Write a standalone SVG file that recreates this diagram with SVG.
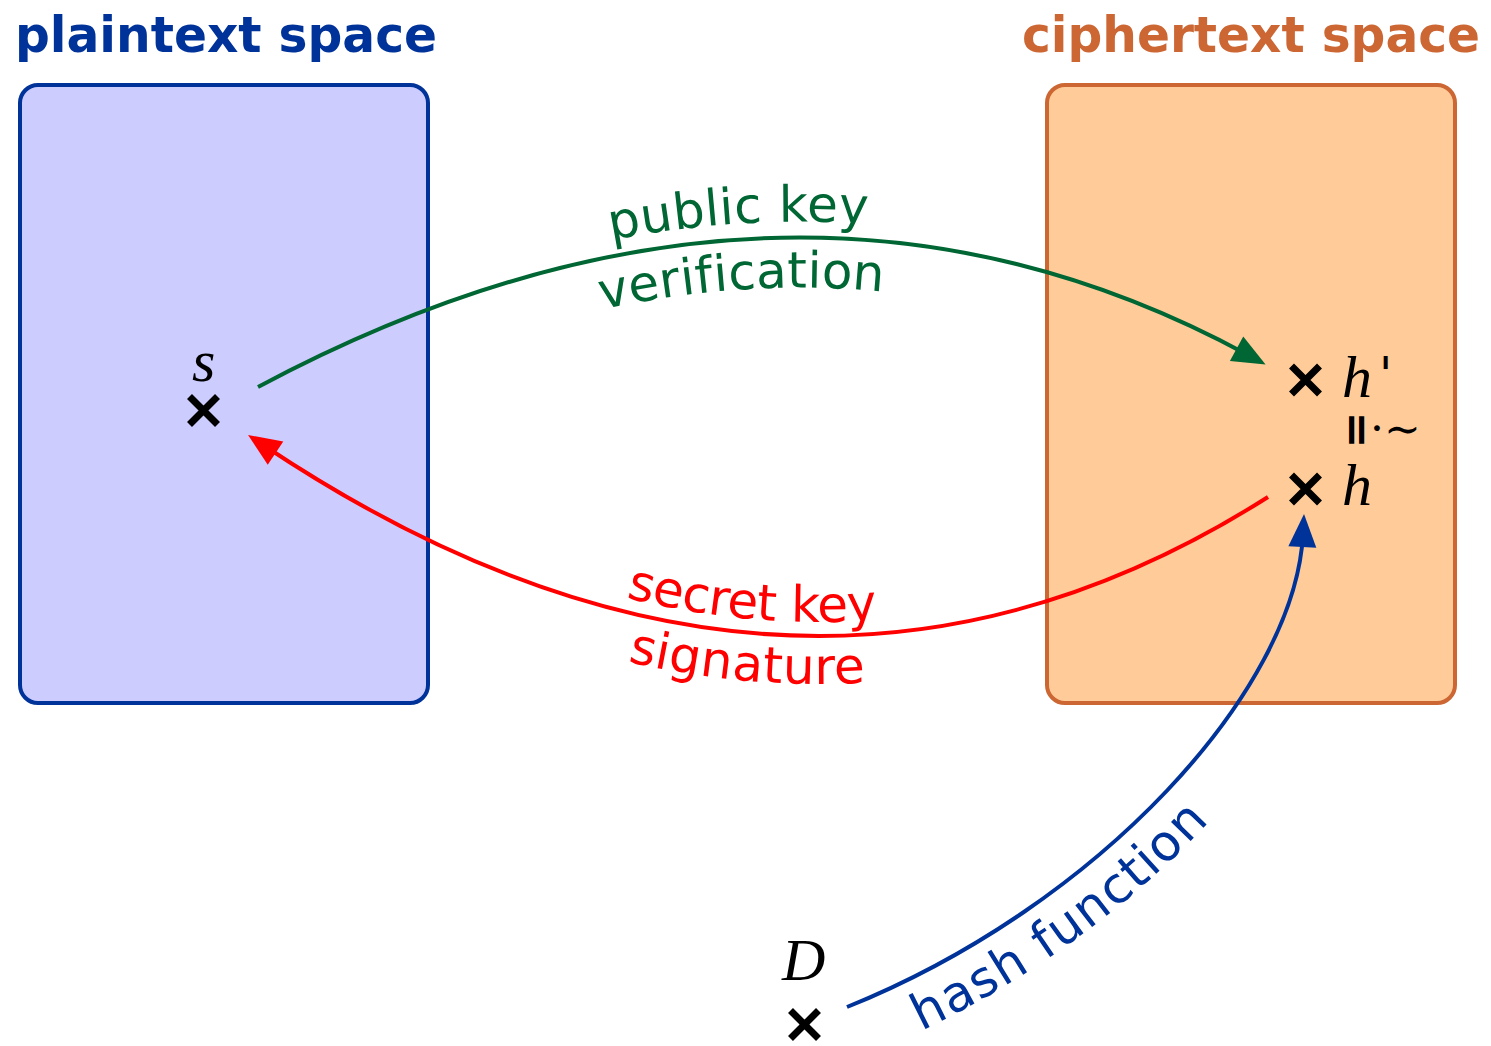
<svg xmlns="http://www.w3.org/2000/svg" xmlns:xlink="http://www.w3.org/1999/xlink" width="1491" height="1046" viewBox="0 0 1491 1046">
  <style>
    .title { font-family: "DejaVu Sans", "Liberation Sans", sans-serif; font-weight: bold; font-size: 50px; }
    .lbl { font-family: "DejaVu Sans", "Liberation Sans", sans-serif; font-size: 50px; }
    .math { font-family: "Liberation Serif", "DejaVu Serif", serif; font-style: italic; font-size: 60px; fill: #000; }
    .cross { stroke: #000; stroke-width: 7; fill: none; }
    .conn { fill: none; stroke-width: 4; }
  </style>
  <defs>
    <marker id="headGreen" markerUnits="userSpaceOnUse" viewBox="-30 -20 60 40" markerWidth="60" markerHeight="40" refX="0" refY="0" orient="auto" overflow="visible">
      <path d="M20,0 L-13,-14 L-13,14 z" fill="#006633"/>
    </marker>
    <marker id="headRed" markerUnits="userSpaceOnUse" viewBox="-30 -20 60 40" markerWidth="60" markerHeight="40" refX="0" refY="0" orient="auto" overflow="visible">
      <path d="M20,0 L-13,-14 L-13,14 z" fill="#ff0000"/>
    </marker>
    <marker id="headBlue" markerUnits="userSpaceOnUse" viewBox="-30 -20 60 40" markerWidth="60" markerHeight="40" refX="0" refY="0" orient="auto" overflow="visible">
      <path d="M20,0 L-13,-14 L-13,14 z" fill="#003399"/>
    </marker>
    <path id="greenArc" d="M258,387 Q787,105 1248,355"/>
    <path id="redArcLR" d="M264.7,446 Q793.6,798.5 1268,497"/>
    <path id="blueArc" d="M847,1007 C1100,905 1295,690 1303,534"/>
    <path id="xmark" d="M-14,-14 L14,14 M-14,14 L14,-14"/>
  </defs>

  <!-- plaintext space -->
  <g id="plaintext">
    <text class="title" x="15" y="52" fill="#003399" textLength="422" lengthAdjust="spacingAndGlyphs">plaintext space</text>
    <rect x="20" y="85" width="408" height="618" rx="18" ry="18" fill="#ccccff" stroke="#003399" stroke-width="4"/>
  </g>

  <!-- ciphertext space -->
  <g id="ciphertext">
    <text class="title" x="1022" y="52" fill="#cc6633" textLength="458" lengthAdjust="spacingAndGlyphs">ciphertext space</text>
    <rect x="1047" y="85" width="408" height="618" rx="18" ry="18" fill="#ffcc99" stroke="#cc6633" stroke-width="4"/>
  </g>

  <!-- connectors -->
  <g id="connectors">
    <path class="conn" d="M258,387 Q787,105 1248,355" stroke="#006633" marker-end="url(#headGreen)"/>
    <path class="conn" d="M1268,497 Q793.6,798.5 264.7,446" stroke="#ff0000" marker-end="url(#headRed)"/>
    <path class="conn" d="M847,1007 C1100,905 1295,690 1303,534" stroke="#003399" marker-end="url(#headBlue)"/>

    <text class="lbl" fill="#006633" text-anchor="middle"><textPath xlink:href="#greenArc" startOffset="49%"><tspan dy="-16">public key</tspan></textPath></text>
    <text class="lbl" fill="#006633" text-anchor="middle" letter-spacing="1.5"><textPath xlink:href="#greenArc" startOffset="49%"><tspan dy="50">verification</tspan></textPath></text>
    <text class="lbl" fill="#ff0000" text-anchor="middle"><textPath xlink:href="#redArcLR" startOffset="49%"><tspan dy="-14">secret key</tspan></textPath></text>
    <text class="lbl" fill="#ff0000" text-anchor="middle" letter-spacing="-1"><textPath xlink:href="#redArcLR" startOffset="49%"><tspan dy="48">signature</tspan></textPath></text>
    <text class="lbl" fill="#003399" font-size="46"><textPath xlink:href="#blueArc" startOffset="56"><tspan dy="52">hash function</tspan></textPath></text>
  </g>

  <!-- points -->
  <g id="node-s">
    <use xlink:href="#xmark" class="cross" x="203.5" y="410.5"/>
    <text class="math" x="192" y="381">s</text>
  </g>
  <g id="node-hprime">
    <use xlink:href="#xmark" class="cross" x="1305.5" y="380"/>
    <text class="math" x="1342" y="397">h</text>
    <text x="1379" y="391" font-family="DejaVu Sans, sans-serif" font-size="48" fill="#000">'</text>
  </g>
  <g id="node-equiv">
    <text transform="translate(1358,430) rotate(90)" text-anchor="middle" y="15" font-family="DejaVu Sans, sans-serif" font-weight="bold" font-size="44" fill="#000">=</text>
    <text x="1370" y="444" font-family="DejaVu Serif, serif" font-size="44" fill="#000">·∼</text>
  </g>
  <g id="node-h">
    <use xlink:href="#xmark" class="cross" x="1305.5" y="489"/>
    <text class="math" x="1342" y="505">h</text>
  </g>
  <g id="node-D">
    <use xlink:href="#xmark" class="cross" x="804.5" y="1024.5"/>
    <text class="math" x="782" y="980">D</text>
  </g>
</svg>
